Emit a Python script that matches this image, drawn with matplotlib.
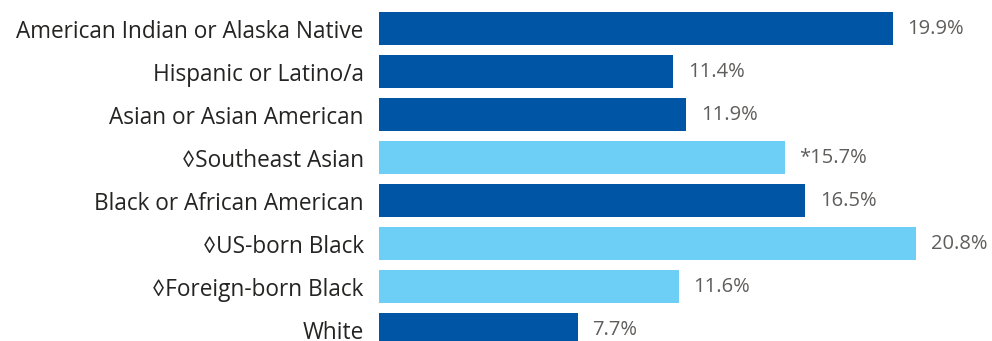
import matplotlib.pyplot as plt

# data
categories = ['American Indian or Alaska Native', 'Hispanic or Latino/a',
              'Asian or Asian American', '\u25caSoutheast Asian',
              'Black or African American', '\u25caUS-born Black',
              '\u25caForeign-born Black', 'White']
values = [19.9, 11.4, 11.9, 15.7, 16.5, 20.8, 11.6, 7.7]
value_labels = ['19.9%', '11.4%', '11.9%', '*15.7%', '16.5%', '20.8%', '11.6%', '7.7%']
subgroup = [False, False, False, True, False, True, True, False]

dark_blue = '#0055A5'
light_blue = '#6DCFF5'

plt.rcParams['font.family'] = ['Open Sans', 'DejaVu Sans']

fig = plt.figure(figsize=(9.92, 3.41), dpi=100)
ax = fig.add_axes([379 / 992, 0, 1 - 379 / 992, 1])

colors = [light_blue if s else dark_blue for s in subgroup]
y = list(range(len(categories)))
ax.barh(y, values, height=0.77, color=colors)

for yi, v, lab in zip(y, values, value_labels):
    ax.annotate(lab, (v, yi), xytext=(10.5, 0), textcoords='offset points',
                ha='left', va='center', fontsize=14.5, color='#605E5C')

ax.set_yticks(y)
ax.set_yticklabels(categories, fontsize=16.3, color='#252423')
ax.tick_params(axis='y', length=0, pad=11)
ax.set_xticks([])
ax.set_xlim(0, 23.73)
ax.set_ylim(7.267, -0.663)
for s in ax.spines.values():
    s.set_visible(False)

fig.savefig('out.png', dpi=100)
